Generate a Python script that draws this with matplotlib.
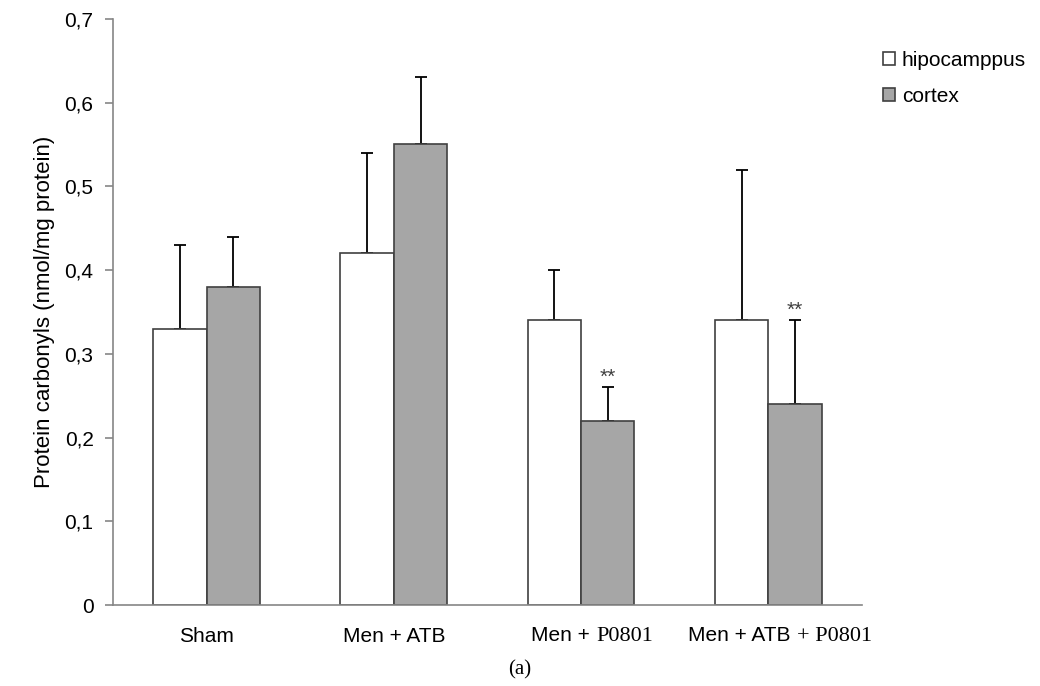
import numpy as np
import matplotlib
matplotlib.use("Agg")
import matplotlib.pyplot as plt
from matplotlib.offsetbox import TextArea, HPacker, AnnotationBbox

## Data
groups_sans = ["Sham", "Men + ATB", "Men +", "Men + ATB"]
groups_serif = ["", "", "P0801", "+ P0801"]
hipo_mean = [0.33, 0.42, 0.34, 0.34]
hipo_err = [0.10, 0.12, 0.06, 0.18]
cortex_mean = [0.38, 0.55, 0.22, 0.24]
cortex_err = [0.06, 0.08, 0.04, 0.10]
cortex_marks = ["", "", "**", "**"]
y_ticks = [0, 0.1, 0.2, 0.3, 0.4, 0.5, 0.6, 0.7]
y_tick_labels = ["0", "0,1", "0,2", "0,3", "0,4", "0,5", "0,6", "0,7"]

SANS = "Liberation Sans"
SERIF = "Liberation Serif"
FS = 15

fig = plt.figure(figsize=(10.4, 6.86), dpi=100)
ax = fig.add_axes([0.1087, 0.118, 0.72, 0.8545])

x = np.arange(len(hipo_mean))
width = 0.285
edge = "#404040"

ax.bar(x - width / 2, hipo_mean, width, color="white", edgecolor=edge,
       linewidth=1.2, label="hipocamppus", zorder=2)
ax.bar(x + width / 2, cortex_mean, width, color="#a6a6a6", edgecolor=edge,
       linewidth=1.2, label="cortex", zorder=2)

## upper-only error bars
ax.errorbar(x - width / 2, hipo_mean, yerr=[np.zeros(len(x)), hipo_err],
            fmt="none", ecolor="black", elinewidth=1.3, capsize=4.5,
            capthick=1.3, zorder=1)
ax.errorbar(x + width / 2, cortex_mean, yerr=[np.zeros(len(x)), cortex_err],
            fmt="none", ecolor="black", elinewidth=1.3, capsize=4.5,
            capthick=1.3, zorder=1)

for xi, m, e, mark in zip(x, cortex_mean, cortex_err, cortex_marks):
    if mark:
        ax.annotate(mark, (xi + width / 2, m + e), xytext=(0, 7),
                    textcoords="offset points", ha="center", va="center",
                    fontsize=15, family=SANS, color="#404040")

ax.set_xlim(-0.5, 3.5)
ax.set_ylim(0, 0.7)
ax.set_yticks(y_ticks)
ax.set_yticklabels(y_tick_labels, family=SANS, fontsize=FS)
ax.set_xticks([])

for s in ["top", "right"]:
    ax.spines[s].set_visible(False)
for s in ["left", "bottom"]:
    ax.spines[s].set_color("#868686")
    ax.spines[s].set_linewidth(1.2)
ax.tick_params(axis="y", direction="out", length=6, width=1.2,
               color="#868686", pad=8)

## category labels (mixed sans / serif like the original)
label_shift = [0, 0, 11, 12]
for xi, a, b, sh in zip(x, groups_sans, groups_serif, label_shift):
    parts = [TextArea(a, textprops=dict(family=SANS, fontsize=FS))]
    if b:
        parts.append(TextArea(b, textprops=dict(family=SERIF, fontsize=FS + 1)))
    box = HPacker(children=parts, pad=0, sep=5, align="baseline")
    ab = AnnotationBbox(box, (xi, 0), xybox=(sh * 0.72, -22.5),
                        xycoords=("data", "axes fraction"),
                        boxcoords="offset points", frameon=False,
                        box_alignment=(0.5, 0.5), annotation_clip=False)
    ax.add_artist(ab)

ax.set_ylabel("Protein carbonyls (nmol/mg protein)", family=SANS,
              fontsize=FS + 1, labelpad=7)

leg = ax.legend(loc="upper left", bbox_to_anchor=(0.831, 0.953),
                bbox_transform=fig.transFigure, frameon=False,
                handlelength=0.6, handleheight=0.6, handletextpad=0.3,
                labelspacing=0.8, prop=dict(family=SANS, size=FS))

fig.text(0.5, 0.024, "(a)", ha="center", va="center", family=SERIF,
         fontsize=15)

fig.savefig("out.png", dpi=100)
